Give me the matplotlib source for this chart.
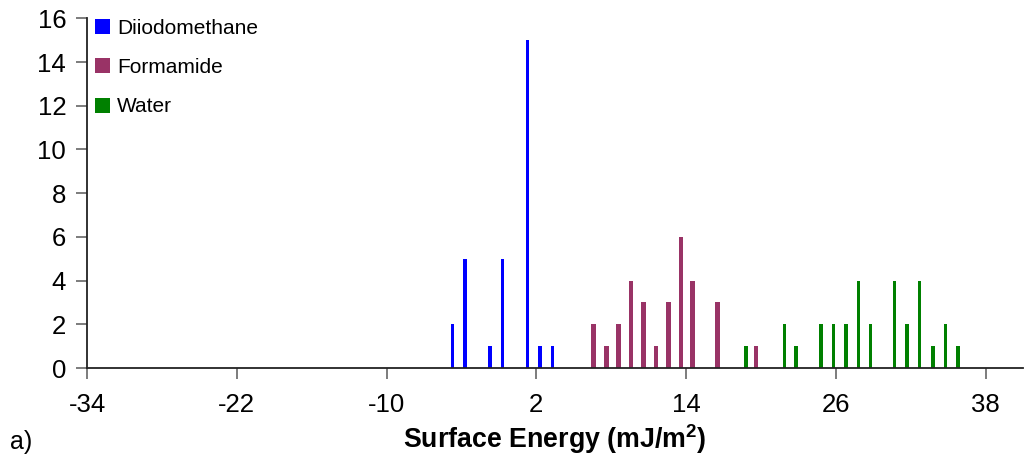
import matplotlib
matplotlib.use("Agg")
import matplotlib.pyplot as plt
from matplotlib.patches import Patch

plt.rcParams['font.family'] = ['Liberation Sans', 'DejaVu Sans']
plt.rcParams['mathtext.fontset'] = 'custom'
plt.rcParams['mathtext.rm'] = 'Liberation Sans'
plt.rcParams['mathtext.bf'] = 'Liberation Sans:bold'
plt.rcParams['axes.unicode_minus'] = False

# Data
series_names = ["Diiodomethane", "Formamide", "Water"]
diiodo_x = [-4.7, -3.7, -1.7, -0.7, 1.3, 2.3, 3.3]
diiodo_n = [2, 5, 1, 5, 15, 1, 1]
formamide_x = [6.6, 7.6, 8.6, 9.6, 10.6, 11.6, 12.6, 13.6, 14.5, 16.5, 19.6]
formamide_n = [2, 1, 2, 4, 3, 1, 3, 6, 4, 3, 1]
water_x = [18.8, 21.9, 22.8, 24.8, 25.8, 26.8, 27.8, 28.8, 30.7, 31.7, 32.7, 33.8, 34.8, 35.8]
water_n = [1, 2, 1, 2, 2, 2, 4, 2, 4, 2, 4, 1, 2, 1]
x_ticks = [-34, -22, -10, 2, 14, 26, 38]
y_ticks = [0, 2, 4, 6, 8, 10, 12, 14, 16]

colors = ["#0000FF", "#993366", "#008000"]

fig = plt.figure(figsize=(10.3, 4.65), dpi=100)
ax = fig.add_axes([87/1030, 1-368/465, (1023-87)/1030, (368-18.4)/465])

ax.bar(diiodo_x, diiodo_n, width=0.28, color=colors[0], linewidth=0)
ax.bar(formamide_x, formamide_n, width=0.38, color=colors[1], linewidth=0)
ax.bar(water_x, water_n, width=0.28, color=colors[2], linewidth=0)

ax.set_xlim(-34, 41)
ax.set_ylim(0, 16)
ax.set_xticks(x_ticks)
ax.set_yticks(y_ticks)
ax.tick_params(axis='both', direction='out', length=8, width=1.2, colors='#666666',
               labelcolor='black', labelsize=18.5)
ax.tick_params(axis='y', pad=7)
ax.tick_params(axis='x', pad=10)
for s in ['top', 'right']:
    ax.spines[s].set_visible(False)
for s in ['left', 'bottom']:
    ax.spines[s].set_color('#222222')
    ax.spines[s].set_linewidth(1.3)

ax.set_xlabel(r'Surface Energy (mJ/m$^{\mathbf{2}}$)', fontsize=19.3, fontweight='bold', labelpad=4)

handles = [Patch(facecolor=c, edgecolor='none') for c in colors]
leg = ax.legend(handles, series_names, loc='upper left', frameon=False, fontsize=15,
                bbox_to_anchor=(95/1030, 1-19/465), bbox_transform=fig.transFigure,
                borderpad=0, borderaxespad=0, handlelength=0.72, handleheight=0.72,
                handletextpad=0.35, labelspacing=0.97)

fig.text(10/1030, 1-449/465, 'a)', fontsize=18, ha='left', va='baseline')

fig.savefig('out.png', dpi=100)
